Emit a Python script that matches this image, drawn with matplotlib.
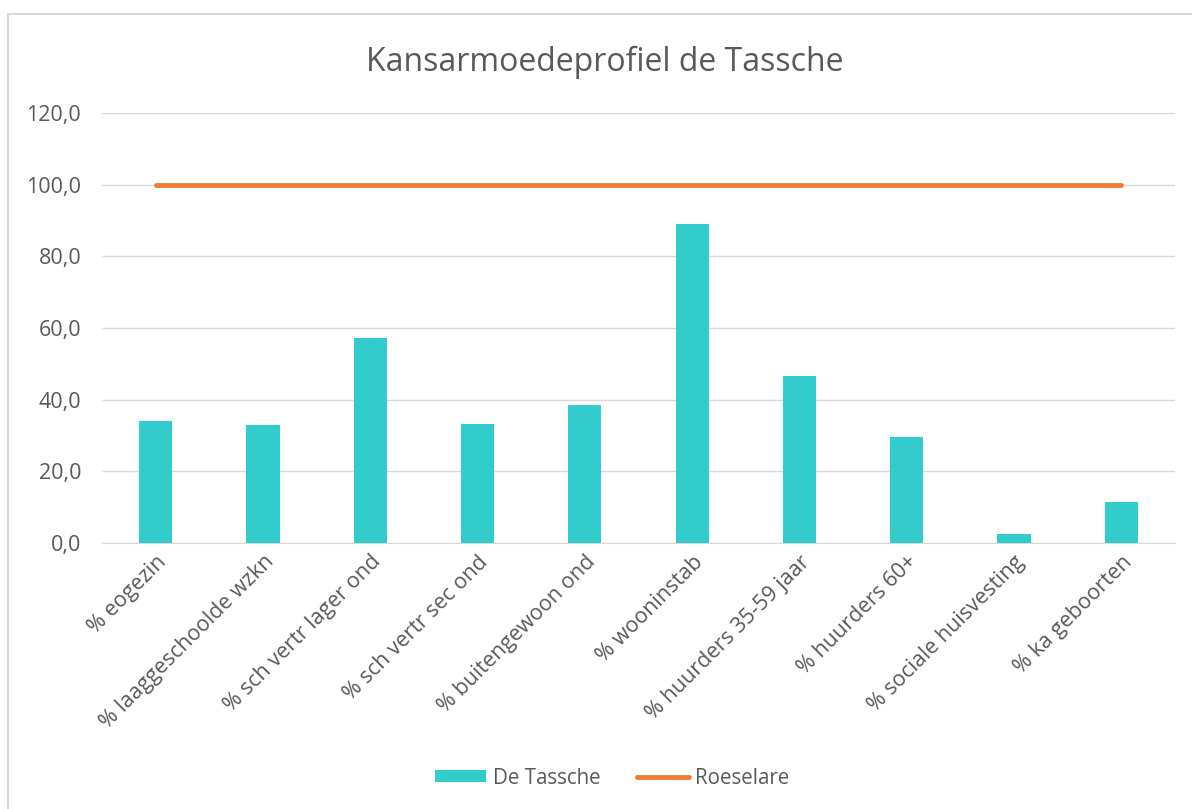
import matplotlib
matplotlib.use("Agg")
import matplotlib.pyplot as plt
from matplotlib.patches import Rectangle
import numpy as np

categories = ["% eogezin", "% laaggeschoolde wzkn", "% sch vertr lager ond",
              "% sch vertr sec ond", "% buitengewoon ond", "% wooninstab",
              "% huurders 35-59 jaar", "% huurders 60+", "% sociale huisvesting",
              "% ka geboorten"]
tassche = [34.0, 32.9, 57.2, 33.3, 38.6, 89.1, 46.5, 29.6, 2.6, 11.4]
roeselare = [100.0] * 10
yticks = [0, 20, 40, 60, 80, 100, 120]
ytick_labels = ["0,0", "20,0", "40,0", "60,0", "80,0", "100,0", "120,0"]

plt.rcParams['font.family'] = ['Open Sans', 'DejaVu Sans']

fig = plt.figure(figsize=(11.92, 8.09), dpi=100)
fig.patches.append(Rectangle((8/1192, -0.01), 1.02, 1 - 14/809 + 0.01,
                             transform=fig.transFigure, fill=False,
                             edgecolor="#D9D9D9", linewidth=1.5))
ax = fig.add_axes([102/1192, 1 - 543/809, (1175 - 102)/1192, (543 - 113)/809])

x = np.arange(len(categories))
bars = ax.bar(x, tassche, width=0.31, color="#33CCCC", label="De Tassche", zorder=3)
line, = ax.plot(x, roeselare, color="#ED7D31", linewidth=3.5, solid_capstyle="round",
                label="Roeselare", zorder=4)

ax.set_xlim(-0.5, len(categories) - 0.5)
ax.set_ylim(0, 120)
ax.set_yticks(yticks)
ax.set_yticklabels(ytick_labels, fontsize=15.5, color="#595959")
ax.set_xticks(x)
ax.set_xticklabels(categories, rotation=45, ha="right", rotation_mode="anchor",
                   fontsize=15.5, color="#595959")
ax.tick_params(axis="both", length=0)
ax.tick_params(axis="y", pad=15)
ax.tick_params(axis="x", pad=6)
ax.grid(axis="y", color="#D9D9D9", linewidth=1, zorder=0)
for s in ["top", "right", "left"]:
    ax.spines[s].set_visible(False)
ax.spines["bottom"].set_color("#D9D9D9")

fig.text(605/1192, 1 - 62/809, "Kansarmoedeprofiel de Tassche", ha="center", va="center",
         fontsize=23, color="#595959")

fig.legend([bars, line], ["De Tassche", "Roeselare"], loc="center",
           bbox_to_anchor=(612/1192, 1 - 778/809), ncol=2, frameon=False,
           fontsize=14.8, labelcolor="#595959", handlelength=2.5, columnspacing=1.8,
           handletextpad=0.3, handleheight=0.5)

fig.savefig("out.png", dpi=100)
